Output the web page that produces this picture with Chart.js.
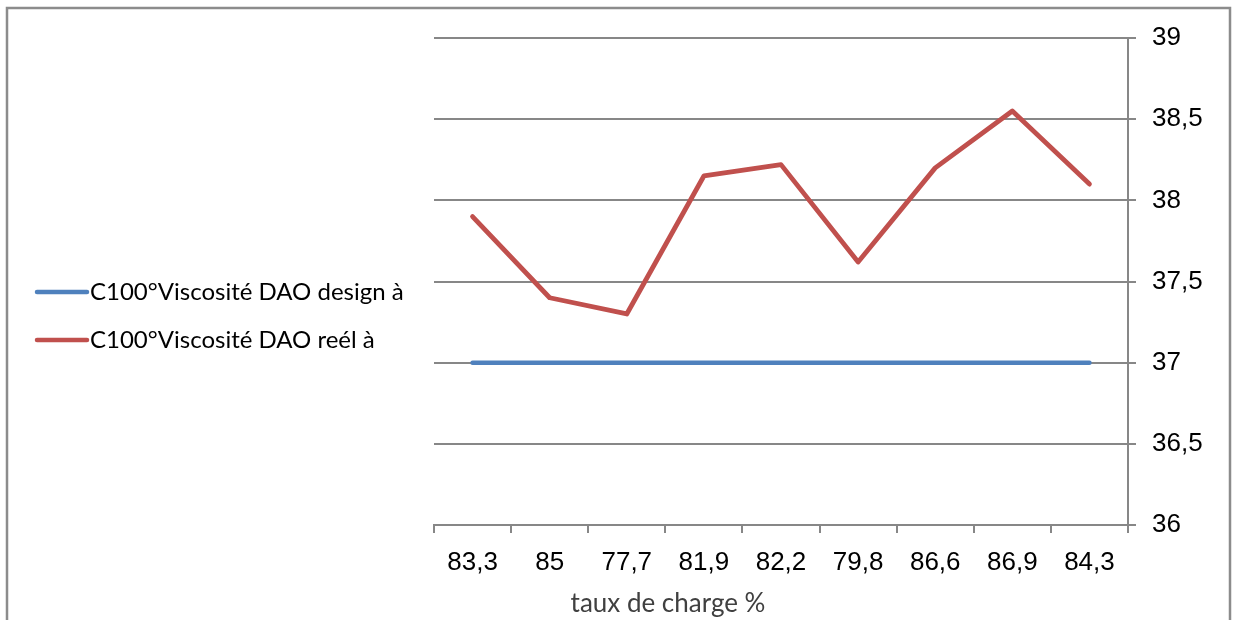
<!DOCTYPE html>
<html>
<head>
<meta charset="utf-8">
<script src="https://cdn.jsdelivr.net/npm/chart.js@4/dist/chart.umd.min.js"></script>
<style>
  html, body { margin: 0; padding: 0; background: #fff; }
  canvas { display: block; }
</style>
</head>
<body>
<canvas id="c" width="1237" height="620"></canvas>
<script>
// Load rate (%) categories along the horizontal axis
const categories = ['83,3', '85', '77,7', '81,9', '82,2', '79,8', '86,6', '86,9', '84,3'];

// C100° viscosity of the DAO: design value and measured value
const designViscosity = [37, 37, 37, 37, 37, 37, 37, 37, 37];
const actualViscosity = [37.9, 37.4, 37.3, 38.15, 38.22, 37.62, 38.2, 38.55, 38.1];

const seriesLabels = ['C100°Viscosité DAO design à', 'C100°Viscosité DAO reél à'];
const xAxisTitle = 'taux de charge %';

const yMin = 36, yMax = 39, yStep = 0.5;

const GRID = '#878787';
const BLUE = '#4F81BD';
const RED = '#C0504D';

// Frame, legend on the left and axis title drawn on the canvas
const decorations = {
  id: 'decorations',
  beforeDraw(chart) {
    const ctx = chart.ctx;
    ctx.save();
    ctx.fillStyle = '#fff';
    ctx.fillRect(0, 0, chart.width, chart.height);
    ctx.strokeStyle = '#8c8c8c';
    ctx.lineWidth = 2.5;
    ctx.beginPath();
    ctx.moveTo(7, chart.height);
    ctx.lineTo(7, 8);
    ctx.lineTo(1230, 8);
    ctx.lineTo(1230, chart.height);
    ctx.stroke();
    ctx.restore();
  },
  afterDraw(chart) {
    const ctx = chart.ctx;
    ctx.save();
    const rows = [292, 340];
    chart.data.datasets.forEach((ds, i) => {
      const y = rows[i];
      ctx.strokeStyle = ds.borderColor;
      ctx.lineWidth = 4.5;
      ctx.lineCap = 'round';
      ctx.beginPath();
      ctx.moveTo(37, y);
      ctx.lineTo(87, y);
      ctx.stroke();
      ctx.fillStyle = '#000';
      ctx.font = '24px Lato';
      ctx.textBaseline = 'middle';
      ctx.textAlign = 'left';
      ctx.fillText(ds.label, 90, y);
    });
    ctx.fillStyle = '#404040';
    ctx.font = '26px Lato';
    ctx.textAlign = 'center';
    ctx.textBaseline = 'middle';
    ctx.fillText(xAxisTitle, 668, 604);
    ctx.restore();
  }
};

new Chart(document.getElementById('c'), {
  type: 'line',
  data: {
    labels: categories,
    datasets: [
      {
        label: seriesLabels[0],
        data: designViscosity,
        borderColor: BLUE,
        backgroundColor: BLUE,
        borderWidth: 4.5,
        pointRadius: 0,
        borderCapStyle: 'round',
        borderJoinStyle: 'round',
        tension: 0
      },
      {
        label: seriesLabels[1],
        data: actualViscosity,
        borderColor: RED,
        backgroundColor: RED,
        borderWidth: 4.8,
        pointRadius: 0,
        borderCapStyle: 'round',
        borderJoinStyle: 'round',
        tension: 0
      }
    ]
  },
  options: {
    responsive: false,
    animation: false,
    layout: { padding: { left: 434, top: 38, right: 0, bottom: 0 } },
    plugins: {
      legend: { display: false },
      tooltip: { enabled: false },
      title: { display: false }
    },
    scales: {
      x: {
        type: 'category',
        offset: true,
        grid: {
          offset: true,
          drawOnChartArea: false,
          drawTicks: true,
          tickLength: 8,
          color: GRID,
          lineWidth: 2
        },
        border: { display: true, color: GRID, width: 2 },
        ticks: {
          color: '#000',
          font: { family: 'Liberation Sans, Arial', size: 26 },
          padding: 14,
          maxRotation: 0,
          autoSkip: false
        },
        afterFit(scale) { scale.height = 95; }
      },
      y: {
        position: 'right',
        min: yMin,
        max: yMax,
        grid: {
          color: GRID,
          lineWidth: 2,
          drawTicks: true,
          tickLength: 8
        },
        border: { display: true, color: GRID, width: 2 },
        ticks: {
          stepSize: yStep,
          color: '#000',
          font: { family: 'Liberation Sans, Arial', size: 26 },
          padding: 16,
          callback: v => String(v).replace('.', ',')
        },
        afterFit(scale) { scale.width = 109; }
      }
    }
  },
  plugins: [decorations]
});
</script>
</body>
</html>
